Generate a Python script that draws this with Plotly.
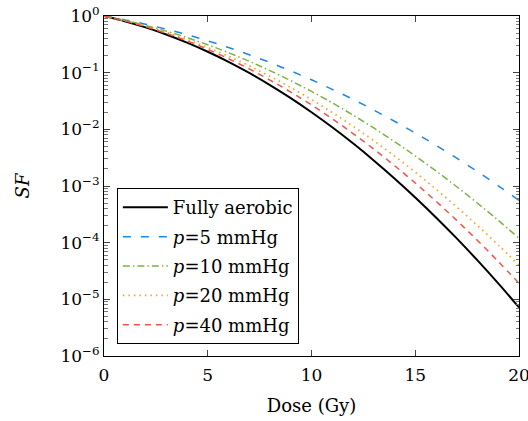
import plotly.graph_objects as go

dose = list(range(0, 21))

sf_aerobic = [1.0, 0.8105, 0.6311, 0.4720, 0.3390, 0.2340, 0.1551, 0.0988, 0.0604, 0.0355,
              0.0200, 0.01086, 0.00566, 0.002831, 0.001361, 6.28e-4, 2.79e-4, 1.19e-4, 4.86e-5,
              1.91e-5, 7.2e-6]
sf_p5 = [1.0, 0.8561, 0.7161, 0.5853, 0.4675, 0.3649, 0.2783, 0.2074, 0.1511, 0.1075,
         0.0748, 0.0508, 0.0338, 0.0219, 0.01389, 0.00861, 0.00522, 0.00309, 0.00179,
         0.001009, 5.57e-4]
sf_p10 = [1.0, 0.8387, 0.6833, 0.5407, 0.4157, 0.3104, 0.2252, 0.1587, 0.1086, 0.0722,
          0.0466, 0.0293, 0.01784, 0.01056, 0.00607, 0.00339, 0.001842, 9.71e-4, 4.97e-4,
          2.48e-4, 1.195e-4]
sf_p20 = [1.0, 0.8272, 0.6618, 0.5122, 0.3833, 0.2775, 0.1943, 0.1316, 0.0862, 0.0546,
          0.0335, 0.01982, 0.01136, 0.00630, 0.00338, 0.001754, 8.79e-4, 4.26e-4, 2.00e-4,
          9.08e-5, 3.99e-5]
sf_p40 = [1.0, 0.8199, 0.6483, 0.4944, 0.3635, 0.2578, 0.1764, 0.1163, 0.0740, 0.0454,
          0.0269, 0.01532, 0.00843, 0.00448, 0.00229, 0.00113, 5.38e-4, 2.47e-4, 1.093e-4,
          4.67e-5, 1.92e-5]

names = ["Fully aerobic", "<i>p</i>=5 mmHg", "<i>p</i>=10 mmHg", "<i>p</i>=20 mmHg", "<i>p</i>=40 mmHg"]
x_ticks = [0, 5, 10, 15, 20]
y_tickvals = [1, 1e-1, 1e-2, 1e-3, 1e-4, 1e-5, 1e-6]
y_ticktext = ["10<sup>0</sup>", "10<sup>−1</sup>", "10<sup>−2</sup>", "10<sup>−3</sup>",
              "10<sup>−4</sup>", "10<sup>−5</sup>", "10<sup>−6</sup>"]

series = [sf_aerobic, sf_p5, sf_p10, sf_p20, sf_p40]
colors = ["black", "#1E88E5", "#7CB342", "#F5A623", "#EF5350"]
dashes = ["solid", "8px,10px", "7px,3px,1.5px,3px", "1.5px,4px", "6px,5px"]
widths = [2, 1.5, 1.5, 1.8, 1.5]

fig = go.Figure()
for i, (ys, nm, c, d, w) in enumerate(zip(series, names, colors, dashes, widths)):
    fig.add_trace(go.Scatter(x=dose, y=ys, name=nm, mode="lines", legendgroup=f"g{i}",
                             line=dict(color=c, dash=d, width=w, shape="spline")))

font_family = "DejaVu Serif"
fig.update_layout(
    width=528, height=421,
    margin=dict(l=104, r=9, t=16, b=65),
    plot_bgcolor="white", paper_bgcolor="white",
    font=dict(family=font_family, size=17, color="black"),
    showlegend=True,
    legend=dict(x=0.031, y=0.494, xanchor="left", yanchor="top",
                bordercolor="black", borderwidth=1, bgcolor="white",
                tracegroupgap=3, itemwidth=45,
                font=dict(size=18, family=font_family)),
)
fig.update_xaxes(range=[0, 20], tickvals=x_ticks, ticks="inside", ticklen=6,
                 showline=True, linecolor="black", linewidth=1, mirror="allticks",
                 showgrid=False, zeroline=False, ticklabeloverflow="allow",
                 ticklabelstandoff=4, automargin=False,
                 title=dict(text="Dose (Gy)", font=dict(size=18), standoff=14),
                 tickfont=dict(size=17))
fig.update_yaxes(type="log", range=[-6, 0], tickvals=y_tickvals, ticktext=y_ticktext,
                 ticks="inside", ticklen=6, showline=True, linecolor="black", linewidth=1,
                 mirror="allticks", showgrid=False, zeroline=False, automargin=False,
                 minor=dict(ticks="inside", ticklen=3.5, dtick="D1", tickcolor="#777"),
                 title=dict(text="<i>SF</i>", font=dict(size=18), standoff=26),
                 tickfont=dict(size=17))

fig.write_html("out.html")
